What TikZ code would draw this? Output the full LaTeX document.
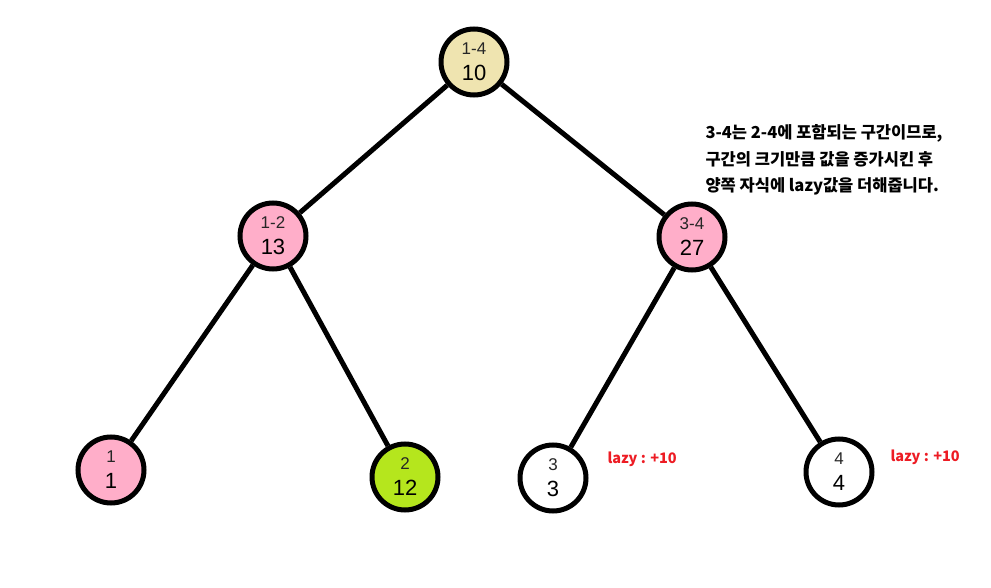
\documentclass[tikz,border=0pt]{standalone}
\usepackage{fontspec}
\setmainfont{Noto Sans CJK KR}
\newfontfamily\numfont{Liberation Sans}
\definecolor{tanfill}{RGB}{239,228,176}
\definecolor{pinkfill}{RGB}{255,174,201}
\definecolor{limefill}{RGB}{181,230,29}
\definecolor{lazyred}{RGB}{237,28,36}
\tikzset{
  treenode/.style={circle, draw=black, line width=5pt, minimum size=66pt, inner sep=0pt},
  edge/.style={line width=5pt, draw=black},
  rangelbl/.style={font=\numfont\fontsize{17}{17}\selectfont, text=black!85},
  vallbl/.style={font=\numfont\fontsize{22}{22}\selectfont, text=black},
  lazylbl/.style={font=\bfseries\fontsize{14.5}{14.5}\selectfont, text=lazyred, anchor=west},
  notelbl/.style={font=\bfseries\fontsize{16.5}{16.5}\selectfont, anchor=west, text=black}
}
\begin{document}
\begin{tikzpicture}[x=1pt,y=-1pt]
\useasboundingbox (0,0) rectangle (991,588);
\node[treenode, fill=tanfill] (r) at (474,62) {};
\node[treenode, fill=pinkfill] (a) at (273,236) {};
\node[treenode, fill=pinkfill] (b) at (692,237) {};
\node[treenode, fill=pinkfill] (l1) at (111,470) {};
\node[treenode, fill=limefill] (l2) at (405,477) {};
\node[treenode, fill=white] (l3) at (553,478) {};
\node[treenode, fill=white] (l4) at (839,472) {};
\draw[edge] (r) -- (a);
\draw[edge] (r) -- (b);
\draw[edge] (a) -- (l1);
\draw[edge] (a) -- (l2);
\draw[edge] (b) -- (l3);
\draw[edge] (b) -- (l4);
\foreach \n/\rg/\v in {r/1-4/10, a/1-2/13, b/3-4/27, l1/1/1, l2/2/12, l3/3/3, l4/4/4}{
  \node[rangelbl] (\n-rg) at ([yshift=13pt]\n.center) {\rg};
  \node[vallbl] (\n-v) at ([yshift=-11pt]\n.center) {\v};
}
\node[lazylbl] (lz3) at (604,459) {lazy : +10};
\node[lazylbl] (lz4) at (887,457) {lazy : +10};
\node[notelbl] (n1) at (702,133) {3-4는 2-4에 포함되는 구간이므로,};
\node[notelbl] (n2) at (702,159) {구간의 크기만큼 값을 증가시킨 후};
\node[notelbl] (n3) at (702,186) {양쪽 자식에 lazy값을 더해줍니다.};
\end{tikzpicture}
\end{document}
